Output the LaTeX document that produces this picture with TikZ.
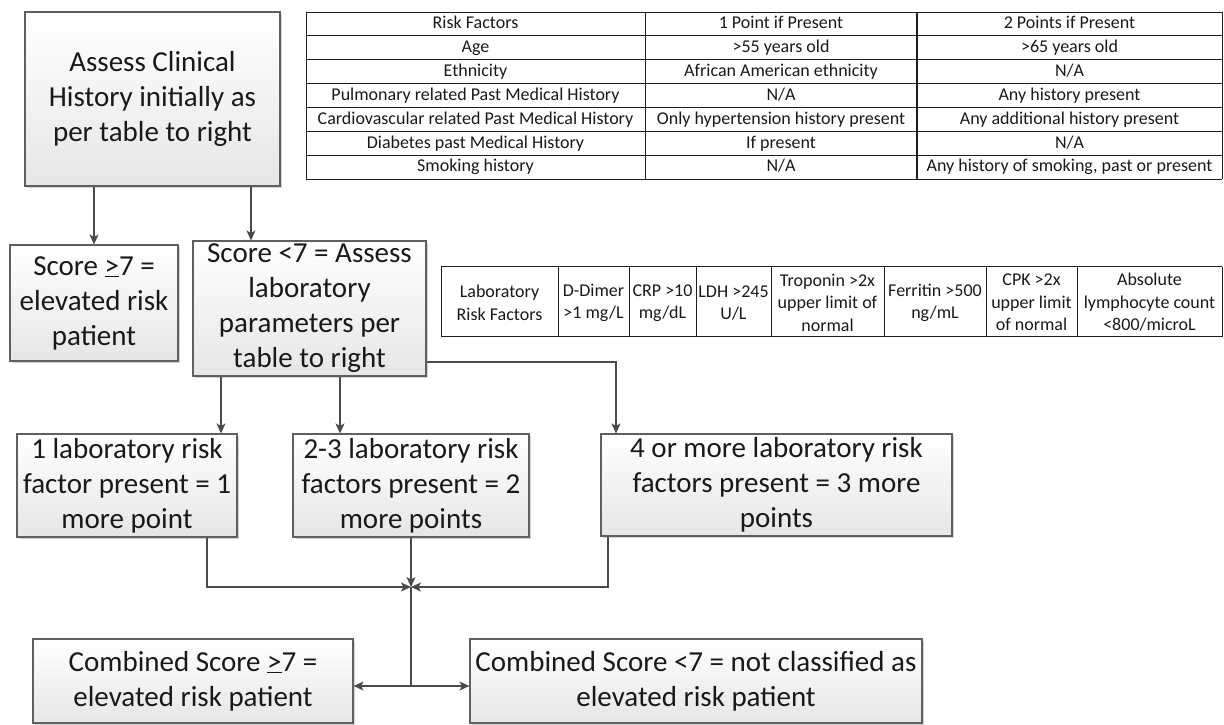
\documentclass[tikz,border=0pt]{standalone}
\usepackage{fontspec}
\setmainfont{Carlito}
\usetikzlibrary{arrows.meta}
\definecolor{edge}{HTML}{5F5F5F}
\definecolor{arrowc}{HTML}{4A4A4A}
\definecolor{fillbot}{HTML}{E6E6E6}
\definecolor{shadowc}{HTML}{D4D4D4}
\definecolor{gridc}{HTML}{1E1E1E}
\begin{document}
\begin{tikzpicture}[x=1pt,y=-1pt,
  box/.style={draw=edge, line width=1.1pt, top color=white, bottom color=fillbot,
    preaction={fill=shadowc, draw=none, transform canvas={xshift=2pt,yshift=-2pt}},
    align=center, inner sep=0pt, font=\fontsize{29}{35}\selectfont, text=black!90},
  arr/.style={draw=arrowc, line width=1.1pt, -{Stealth[length=10pt,width=9pt,inset=2.5pt]}},
  plainline/.style={draw=arrowc, line width=1.1pt},
  gridline/.style={draw=gridc, line width=0.9pt},
  cell/.style={font=\fontsize{18}{22.5}\selectfont, align=center, inner sep=0pt, text=black!90},
  onecell/.style={cell, text height=12.6pt, text depth=4.2pt}]
\useasboundingbox (0,0) rectangle (1224,724);
\clip (0,0) rectangle (1224,724);

% ---- boxes
\node[box, minimum width=255pt, minimum height=174pt] (b1) at (152.5,99) {Assess Clinical\\History initially as\\per table to right};
\node[box, minimum width=168pt, minimum height=116pt] (b2) at (94,303) {Score \underline{>}7 =\\elevated risk\\patient};
\node[box, minimum width=233pt, minimum height=135pt] (b3) at (309.5,308.5) {Score <7 = Assess\\laboratory\\parameters per\\table to right};
\node[box, minimum width=220pt, minimum height=103pt] (b4) at (127,485.5) {1 laboratory risk\\factor present = 1\\more point};
\node[box, minimum width=236pt, minimum height=103pt] (b5) at (411,485.5) {2-3 laboratory risk\\factors present = 2\\more points};
\node[box, minimum width=351pt, minimum height=102pt] (b6) at (776.5,485) {4 or more laboratory risk\\factors present = 3 more\\points};
\node[box, minimum width=320pt, minimum height=84pt] (b7) at (193,681) {Combined Score \underline{>}7 =\\elevated risk patient};
\node[box, minimum width=452pt, minimum height=84pt] (b8) at (696,681) {Combined Score <7 = not classified as\\elevated risk patient};

% ---- helper coordinates
\coordinate (x94) at (94,0);
\coordinate (x251) at (251,0);
\coordinate (x221) at (221,0);
\coordinate (x340) at (340,0);
\coordinate (c1) at (616,362);
\coordinate (x207) at (207,0);
\coordinate (x608) at (608,0);
\coordinate (m) at (411,587);
\coordinate (j) at (411,686);

% ---- connectors
\draw[arr] (b1.south -| x94) -- (b2.north -| x94);
\draw[arr] (b1.south -| x251) -- (b3.north -| x251);
\draw[arr] (b3.south -| x221) -- (b4.north -| x221);
\draw[arr] (b3.south -| x340) -- (b5.north -| x340);
\draw[arr] (b3.east |- c1) -| (b6.north -| c1);
\draw[arr] (b4.south -| x207) |- (m);
\draw[arr] (b5.south -| m) -- (m);
\draw[arr] (b6.south -| x608) |- (m);
\draw[plainline] (m) -- (j);
\draw[arr] (j) -- (b7.east |- j);
\draw[arr] (j) -- (b8.west |- j);

% ---- table 1
\foreach \i in {0,...,7}
  \draw[gridline] (306,{12+23.857*\i}) -- (1222,{12+23.857*\i});
\draw[gridline] (306,12) -- (306,179);
\draw[gridline] (645,12) -- (645,179);
\draw[draw=gridc, line width=1.8pt] (917,12) -- (917,179);
\draw[gridline] (1222,12) -- (1222,179);
\foreach \a/\b/\c [count=\r from 0] in {
  Risk Factors/1 Point if Present/2 Points if Present,
  Age/{>55 years old}/{>65 years old},
  Ethnicity/African American ethnicity/N\slash A,
  Pulmonary related Past Medical History/N\slash A/Any history present,
  Cardiovascular related Past Medical History/Only hypertension history present/Any additional history present,
  Diabetes past Medical History/If present/N\slash A,
  Smoking history/N\slash A/{Any history of smoking, past or present}}
{
  \node[onecell] (ta\r) at (475.5,{24.6+23.857*\r}) {\a};
  \node[onecell] (tb\r) at (781,{24.6+23.857*\r}) {\b};
  \node[onecell] (tc\r) at (1069.5,{24.6+23.857*\r}) {\c};
}

% ---- table 2
\draw[gridline] (441,266.7) -- (1222,266.7);
\draw[gridline] (441,336.7) -- (1222,336.7);
\foreach \x in {441,558,629,696,771,884,986,1077,1222}
  \draw[gridline] (\x,266.7) -- (\x,336.7);
\node[cell] (l1) at (499.5,303) {Laboratory\\Risk Factors};
\node[cell] (l2) at (593.5,303) {D-Dimer\\>1 mg/L};
\node[cell] (l3) at (662.5,303) {CRP >10\\mg/dL};
\node[cell] (l4) at (733.5,303) {LDH >245\\U/L};
\node[cell] (l5) at (827.5,302.5) {Troponin >2x\\upper limit of\\normal};
\node[cell] (l6) at (935,303) {Ferritin >500\\ng/mL};
\node[cell] (l7) at (1031.5,302.5) {CPK >2x\\upper limit\\of normal};
\node[cell] (l8) at (1149.5,302.5) {Absolute\\lymphocyte count\\<800/microL};
\end{tikzpicture}
\end{document}
